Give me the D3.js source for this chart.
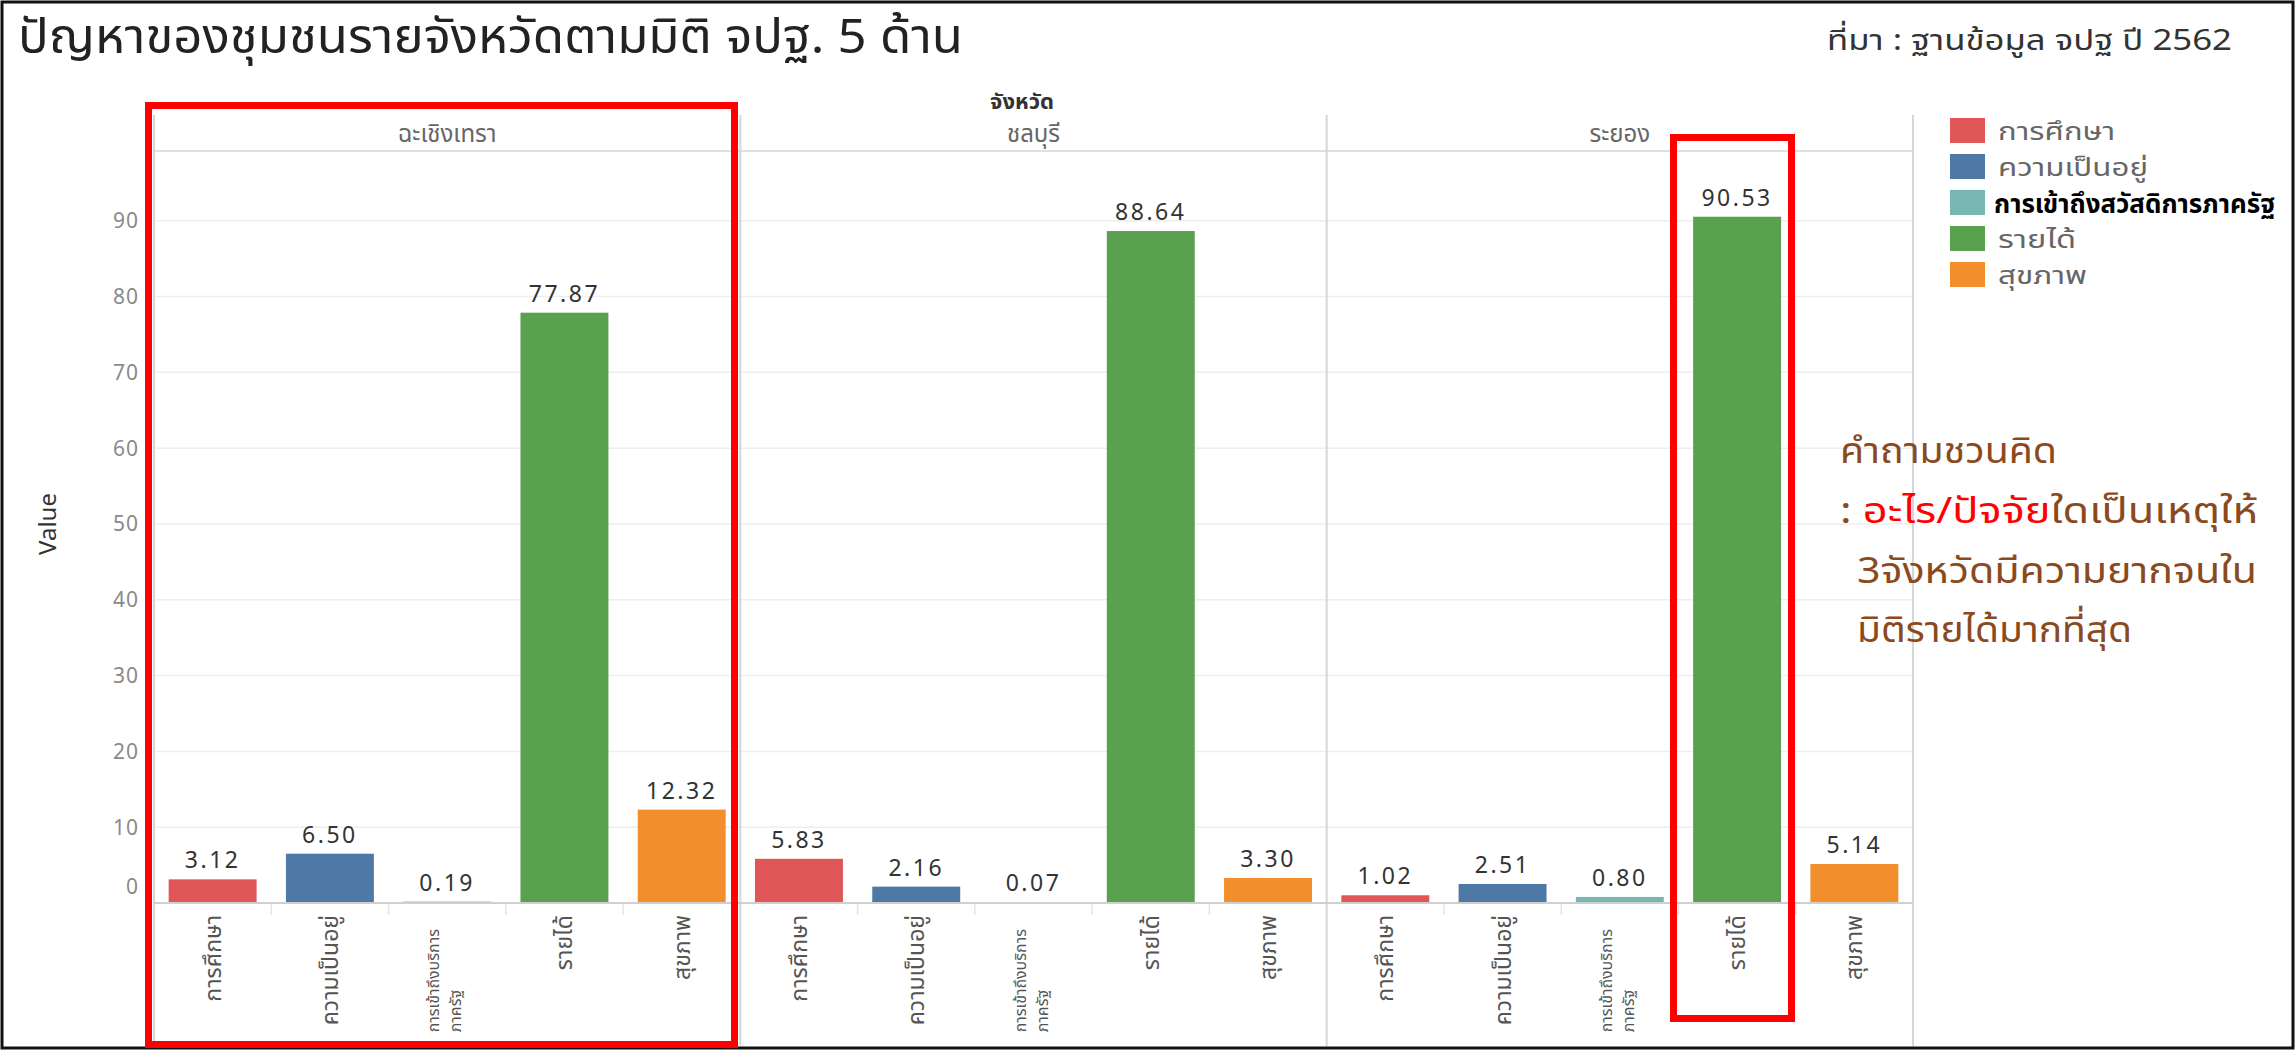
<!DOCTYPE html>
<html>
<head>
<meta charset="utf-8">
<script src="https://cdn.jsdelivr.net/npm/d3@7"></script>
<style>
  html, body { margin: 0; padding: 0; background: #fff; }
  svg { display: block; }
  text { font-family: "Noto Sans Thai", "Noto Sans", Loma, Garuda, sans-serif; }
</style>
</head>
<body>
<svg id="chart" width="2295" height="1050"></svg>
<script>
// ---------------- DATA ----------------
const provinces = ["ฉะเชิงเทรา", "ชลบุรี", "ระยอง"];
const dimensions = ["การศึกษา", "ความเป็นอยู่", "การเข้าถึงสวัสดิการภาครัฐ", "รายได้", "สุขภาพ"];
const axisLabels = [["การศึกษา"], ["ความเป็นอยู่"], ["การเข้าถึงบริการ", "ภาครัฐ"], ["รายได้"], ["สุขภาพ"]];
const valuesChachoengsao = [3.12, 6.50, 0.19, 77.87, 12.32];
const valuesChonburi = [5.83, 2.16, 0.07, 88.64, 3.30];
const valuesRayong = [1.02, 2.51, 0.80, 90.53, 5.14];
const yTicks = [0, 10, 20, 30, 40, 50, 60, 70, 80, 90];
const dimColors = ["#E15759", "#4E79A7", "#76B7B2", "#59A14F", "#F28E2B"];
const titleText = "ปัญหาของชุมชนรายจังหวัดตามมิติ จปฐ. 5 ด้าน";
const sourceText = "ที่มา : ฐานข้อมูล จปฐ ปี 2562";
const columnHeader = "จังหวัด";
const yAxisTitle = "Value";
const noteLines = [
  [{t: "คำถามชวนคิด", c: "brown"}],
  [{t: ": ", c: "brown"}, {t: "อะไร/ปัจจัย", c: "red"}, {t: "ใดเป็นเหตุให้", c: "brown"}],
  [{t: "3จังหวัดมีความยากจนใน", c: "brown"}],
  [{t: "มิติรายได้มากที่สุด", c: "brown"}]
];

const rows = [];
const provValues = [valuesChachoengsao, valuesChonburi, valuesRayong];
provinces.forEach((p, i) => dimensions.forEach((d, j) => rows.push({prov: p, dim: d, idx: j, value: provValues[i][j]})));

// ---------------- LAYOUT ----------------
const svg = d3.select("#chart");
const plotLeft = 154, plotRight = 1913, plotTop = 151, axisY = 903, headerTop = 115, bottomY = 1046;

const xOuter = d3.scaleBand().domain(provinces).range([plotLeft, plotRight]).padding(0);
const xInner = d3.scaleBand().domain(dimensions).range([0, xOuter.bandwidth()]).paddingInner(0.25).paddingOuter(0.125);
const y = d3.scaleLinear().domain([0, 99.2]).range([axisY, plotTop]);
const color = d3.scaleOrdinal().domain(dimensions).range(dimColors);

function fit(sel, w) {
  sel.each(function() {
    const len = this.getComputedTextLength();
    if (len > 0) d3.select(this).attr("textLength", w).attr("lengthAdjust", "spacingAndGlyphs");
  });
}

// outer frame
svg.append("rect").attr("x", 2).attr("y", 2).attr("width", 2291).attr("height", 1046)
  .attr("fill", "#fff").attr("stroke", "#111").attr("stroke-width", 3);

// title + source
svg.append("text").attr("x", 18).attr("y", 53).attr("font-size", 48).attr("fill", "#222")
  .text(titleText).call(fit, 945);
svg.append("text").attr("x", 1827).attr("y", 50).attr("font-size", 29).attr("fill", "#333")
  .text(sourceText).call(fit, 405);

// gridlines
svg.append("g").selectAll("line").data(yTicks.filter(d => d > 0)).join("line")
  .attr("x1", plotLeft).attr("x2", plotRight)
  .attr("y1", d => y(d)).attr("y2", d => y(d))
  .attr("stroke", "#eeeeee").attr("stroke-width", 1.5);

// header line
svg.append("line").attr("x1", plotLeft).attr("x2", plotRight).attr("y1", plotTop).attr("y2", plotTop)
  .attr("stroke", "#d6d6d6").attr("stroke-width", 1.5);

// panel separators
svg.append("g").selectAll("line").data(provinces.map(p => xOuter(p)).concat([plotRight])).join("line")
  .attr("x1", d => d).attr("x2", d => d).attr("y1", headerTop).attr("y2", bottomY)
  .attr("stroke", "#d6d6d6").attr("stroke-width", 2);

// column header
svg.append("text").attr("x", 1022).attr("y", 109).attr("text-anchor", "middle")
  .attr("font-size", 22).attr("font-weight", "bold").attr("fill", "#333").text(columnHeader);

// province headers
svg.append("g").selectAll("text").data(provinces).join("text")
  .attr("x", d => xOuter(d) + xOuter.bandwidth() / 2).attr("y", 142)
  .attr("text-anchor", "middle").attr("font-size", 24).attr("fill", "#666").text(d => d);

// y axis tick labels
svg.append("g").selectAll("text").data(yTicks).join("text")
  .attr("x", 139).attr("y", d => y(d) + (d === 0 ? -16 : 0)).attr("dy", "0.35em")
  .attr("text-anchor", "end").attr("font-family", "DejaVu Sans").attr("font-size", 21)
  .attr("letter-spacing", 1).attr("fill", "#8a8a8a").text(d => d);

// y axis title
svg.append("text").attr("transform", "translate(56,524) rotate(-90)").attr("text-anchor", "middle")
  .attr("font-family", "Liberation Sans Narrow, Liberation Sans").attr("font-size", 24).attr("fill", "#333")
  .text(yAxisTitle);

// bars
const panel = svg.append("g").selectAll("g").data(provinces).join("g")
  .attr("transform", d => `translate(${xOuter(d)},0)`);

panel.selectAll("rect").data(p => rows.filter(r => r.prov === p)).join("rect")
  .attr("x", d => xInner(d.dim)).attr("width", xInner.bandwidth())
  .attr("y", d => y(d.value)).attr("height", d => axisY - y(d.value))
  .attr("fill", d => color(d.dim));

panel.selectAll("text.val").data(p => rows.filter(r => r.prov === p)).join("text")
  .attr("class", "val")
  .attr("x", d => xInner(d.dim) + xInner.bandwidth() / 2).attr("y", d => y(d.value) - 11)
  .attr("text-anchor", "middle").attr("font-family", "DejaVu Sans").attr("font-size", 23)
  .attr("letter-spacing", 2.5).attr("fill", "#333").text(d => d.value.toFixed(2));

// category separators below the axis
panel.selectAll("line.sep").data(dimensions.slice(1)).join("line").attr("class", "sep")
  .attr("x1", d => xInner(d) - xInner.step() * xInner.paddingInner() / 2)
  .attr("x2", d => xInner(d) - xInner.step() * xInner.paddingInner() / 2)
  .attr("y1", axisY).attr("y2", axisY + 12).attr("stroke", "#e6e6e6").attr("stroke-width", 1.5);

// x axis line
svg.append("line").attr("x1", plotLeft).attr("x2", plotRight).attr("y1", axisY).attr("y2", axisY)
  .attr("stroke", "#cfcfcf").attr("stroke-width", 2);

// x labels (rotated)
panel.each(function() {
  const g = d3.select(this);
  dimensions.forEach((d, j) => {
    const lines = axisLabels[j];
    const cx = xInner(d) + xInner.bandwidth() / 2;
    if (lines.length === 1) {
      g.append("text").attr("transform", `translate(${cx + 8},${axisY + 12}) rotate(-90)`)
        .attr("text-anchor", "end").attr("font-size", 23).attr("fill", "#555").text(lines[0]);
    } else {
      const fs = 16;
      const tmp = g.append("text").attr("font-size", fs).text(lines[0]);
      const L = tmp.node().getComputedTextLength();
      tmp.remove();
      lines.forEach((ln, k) => {
        g.append("text")
          .attr("transform", `translate(${cx - 8 + k * 22},${axisY + 26 + L}) rotate(-90)`)
          .attr("text-anchor", "start").attr("font-size", fs).attr("fill", "#555").text(ln);
      });
    }
  });
});

// legend
const legendWidths = [117, 150, 281, 78, 89];
const legend = svg.append("g").attr("transform", "translate(1950,118)");
const lg = legend.selectAll("g").data(dimensions).join("g")
  .attr("transform", (d, i) => `translate(0,${i * 36})`);
lg.append("rect").attr("width", 35).attr("height", 25).attr("fill", d => color(d));
lg.append("text").attr("x", (d, i) => i === 2 ? 44 : 48).attr("y", (d, i) => i === 2 ? 23 : 22)
  .attr("font-size", (d, i) => i === 2 ? 27 : 24)
  .attr("font-weight", (d, i) => i === 2 ? "bold" : "normal")
  .attr("fill", (d, i) => i === 2 ? "#000" : "#666").text(d => d)
  .each(function(d, i) { d3.select(this).call(fit, legendWidths[i]); });

// annotation
const noteColor = {brown: "#8B4A1E", red: "#FF0000"};
const noteX = [1840, 1840, 1857, 1857];
const noteY = [463, 523, 583, 642];
const noteW = [217, 418, 400, 275];
noteLines.forEach((parts, i) => {
  const t = svg.append("text").attr("x", noteX[i]).attr("y", noteY[i]).attr("font-size", 36);
  parts.forEach(p => t.append("tspan").attr("fill", noteColor[p.c]).text(p.t));
  t.call(fit, noteW[i]);
});

// red highlight boxes
svg.append("rect").attr("x", 148.5).attr("y", 105.5).attr("width", 586).attr("height", 939)
  .attr("fill", "none").attr("stroke", "#FF0000").attr("stroke-width", 7);
svg.append("rect").attr("x", 1673.5).attr("y", 137.5).attr("width", 118).attr("height", 881)
  .attr("fill", "none").attr("stroke", "#FF0000").attr("stroke-width", 7);
</script>
</body>
</html>
